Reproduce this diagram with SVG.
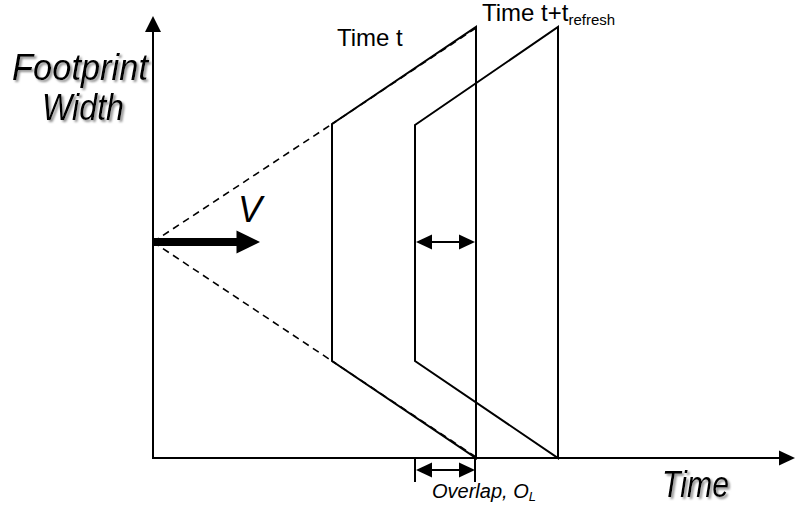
<svg xmlns="http://www.w3.org/2000/svg" width="795" height="510" viewBox="0 0 795 510">
  <defs>
    <filter id="shadow" x="-10%" y="-20%" width="130%" height="150%">
      <feGaussianBlur in="SourceAlpha" stdDeviation="0.8" result="b"/>
      <feOffset in="b" dx="2" dy="2" result="o"/>
      <feFlood flood-color="#909090" result="c"/>
      <feComposite in="c" in2="o" operator="in" result="s"/>
      <feMerge>
        <feMergeNode in="s"/>
        <feMergeNode in="SourceGraphic"/>
      </feMerge>
    </filter>
  </defs>
  <style>
    .ln { stroke: #000; stroke-width: 2; fill: none; }
    .dash { stroke: #000; stroke-width: 1.6; fill: none; stroke-dasharray: 7 5; }
    .head { fill: #000; stroke: none; }
    .big { font-family: "Liberation Sans", Arial, sans-serif; font-style: italic; font-size: 36px; fill: #000; }
    .shd { filter: url(#shadow); }
    .lbl { font-family: "Liberation Sans", Arial, sans-serif; font-size: 24px; fill: #000; }
    .ov { font-family: "Liberation Sans", Arial, sans-serif; font-style: italic; font-size: 20px; fill: #000; }
  </style>
  <rect width="795" height="510" fill="#fff"/>

  <g id="axes">
    <line class="ln" x1="153" y1="459" x2="153" y2="30"/>
    <polygon class="head" points="153,16 145,32 161,32"/>
    <line class="ln" x1="152" y1="458" x2="781" y2="458"/>
    <polygon class="head" points="795,458 779,450.5 779,465.5"/>
  </g>

  <g id="connectors">
    <line class="dash" x1="153" y1="242" x2="332" y2="124"/>
    <line class="dash" x1="153" y1="242" x2="332" y2="361"/>
    <line class="dash" x1="332" y1="124" x2="476" y2="28" stroke-dashoffset="2"/>
    <line class="dash" x1="332" y1="361" x2="476" y2="457" stroke-dashoffset="2"/>
    <!-- velocity arrow -->
    <line x1="152" y1="242" x2="238" y2="242" stroke="#000" stroke-width="8"/>
    <polygon class="head" points="260,242 236.5,230.5 236.5,253.5"/>
    <!-- overlap arrow inside -->
    <line class="ln" x1="428" y1="242" x2="463" y2="242"/>
    <polygon class="head" points="416,242 432,234.5 432,249.5"/>
    <polygon class="head" points="475,242 459,234.5 459,249.5"/>
    <!-- overlap dimension at bottom -->
    <line class="ln" x1="415" y1="458" x2="415" y2="482"/>
    <line class="ln" x1="475" y1="458" x2="475" y2="482"/>
    <line class="ln" x1="428" y1="470" x2="463" y2="470"/>
    <polygon class="head" points="416,470 432,462.5 432,477.5"/>
    <polygon class="head" points="475,470 459,462.5 459,477.5"/>
  </g>

  <g id="frame-t">
    <polygon class="ln" points="332,124 476,27 476,458 332,361"/>
  </g>

  <g id="frame-t-refresh">
    <polygon class="ln" points="415,125 558,27 558,458 415,361"/>
  </g>

  <g id="labels">
    <g id="label-footprint" class="shd">
      <text class="big" x="12" y="80" textLength="136" lengthAdjust="spacingAndGlyphs">Footprint</text>
      <text class="big" x="42" y="120" textLength="82" lengthAdjust="spacingAndGlyphs">Width</text>
    </g>
    <g id="label-time-axis" class="shd">
      <text class="big" x="662" y="497" textLength="67" lengthAdjust="spacingAndGlyphs">Time</text>
    </g>
    <text class="big" x="238" y="222" font-size="35">V</text>
    <text class="lbl" x="337" y="46">Time t</text>
    <text class="lbl" x="482" y="21">Time t+t<tspan font-size="15" dy="4">refresh</tspan></text>
    <text class="ov" x="432" y="498">Overlap, O<tspan font-size="13" dy="3">L</tspan></text>
  </g>
</svg>
